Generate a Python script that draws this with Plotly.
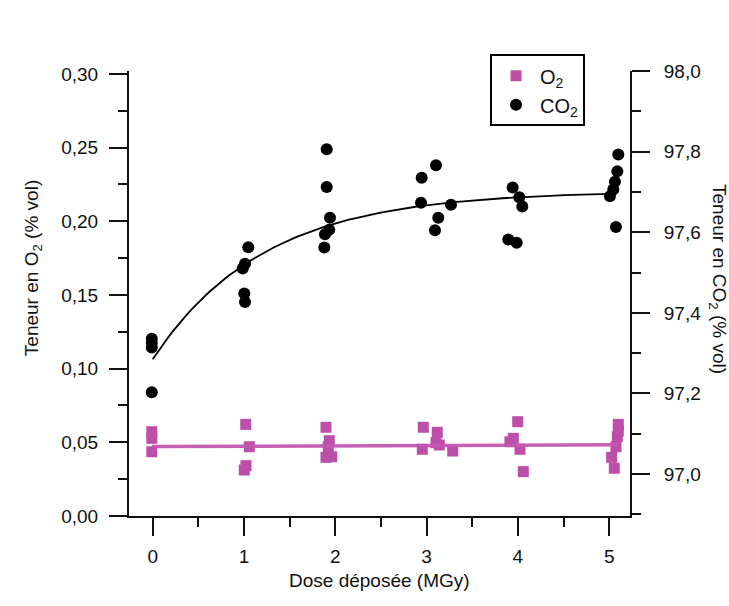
import numpy as np
import plotly.graph_objects as go

# ---- data ----
co2_dose = [-0.01, -0.01, -0.01, -0.01,
            1.047, 1.011, 0.986, 1.003, 1.011,
            1.906, 1.906, 1.942, 1.934, 1.887, 1.880,
            2.946, 3.103, 2.939, 3.267, 3.128, 3.092,
            3.943, 4.015, 4.048, 3.895, 3.987,
            5.100, 5.089, 5.063, 5.045, 5.008, 5.074]
co2_vals = [97.336, 97.325, 97.314, 97.203,
            97.563, 97.522, 97.510, 97.448, 97.427,
            97.806, 97.712, 97.636, 97.606, 97.595, 97.562,
            97.735, 97.766, 97.673, 97.668, 97.636, 97.605,
            97.711, 97.687, 97.664, 97.582, 97.574,
            97.793, 97.751, 97.725, 97.706, 97.689, 97.613]

o2_dose = [-0.01, -0.01, -0.01,
           1.019, 1.058, 1.022, 1.003,
           1.898, 1.934, 1.923, 1.898, 1.961,
           2.964, 3.117, 3.103, 3.139, 2.953, 3.286,
           3.998, 3.950, 3.913, 4.023, 4.059,
           5.100, 5.100, 5.089, 5.074, 5.027, 5.056]
o2_vals = [0.0572, 0.0527, 0.0436,
           0.0622, 0.0470, 0.0342, 0.0312,
           0.0602, 0.0511, 0.0470, 0.0398, 0.0402,
           0.0602, 0.0568, 0.0498, 0.0482, 0.0453, 0.0441,
           0.0640, 0.0527, 0.0504, 0.0453, 0.0301,
           0.0622, 0.0577, 0.0538, 0.0470, 0.0398, 0.0324]

# fitted models shown in the reference
co2_fit_A, co2_fit_B, co2_fit_tau = 97.702, 0.417, 1.213
co2_fit_range = [0.0, 5.01]
o2_fit_intercept, o2_fit_slope = 0.0471, 0.000235
o2_fit_range = [-0.01, 5.10]

x_ticks = [0, 1, 2, 3, 4, 5]

MAG = "rgb(188,79,168)"
FONT = "Liberation Sans, Arial, sans-serif"
INK = "#111111"

xf = np.linspace(co2_fit_range[0], co2_fit_range[1], 120)
yf = co2_fit_A - co2_fit_B * np.exp(-xf / co2_fit_tau)
xo = np.array(o2_fit_range)
yo = o2_fit_intercept + o2_fit_slope * xo

fig = go.Figure()
fig.add_trace(go.Scatter(x=o2_dose, y=o2_vals, mode="markers", name="O<sub>2</sub>",
                         marker=dict(symbol="square", size=11, color=MAG), yaxis="y"))
fig.add_trace(go.Scatter(x=co2_dose, y=co2_vals, mode="markers", name="CO<sub>2</sub>",
                         marker=dict(symbol="circle", size=12, color="black"), yaxis="y2"))
fig.add_trace(go.Scatter(x=xo, y=yo, mode="lines", showlegend=False,
                         line=dict(color="rgba(196,86,176,0.95)", width=3.5), yaxis="y"))
fig.add_trace(go.Scatter(x=xf, y=yf, mode="lines", showlegend=False,
                         line=dict(color="black", width=1.8), yaxis="y2"))

axis_common = dict(showline=True, linecolor=INK, linewidth=2, ticks="outside",
                   ticklen=18, tickwidth=2, tickcolor=INK, showgrid=False, zeroline=False,
                   automargin=False,
                   tickfont=dict(family=FONT, size=19, color=INK))

fig.update_layout(
    width=729, height=606, autosize=False,
    margin=dict(l=129, r=99, t=71, b=90),
    paper_bgcolor="white", plot_bgcolor="white",
    separators=", ",
    font=dict(family=FONT, color=INK),
    xaxis=dict(range=[-0.2596, 5.228], tickvals=x_ticks, ticktext=[str(t) for t in x_ticks],
               ticklabelstandoff=4,
               minor=dict(dtick=0.5, tick0=0, ticks="outside", ticklen=9, tickwidth=2, tickcolor=INK),
               **axis_common),
    yaxis=dict(range=[0, 0.3020], dtick=0.05, tickformat=".2f", ticklabelstandoff=7,
               minor=dict(dtick=0.025, tick0=0, ticks="outside", ticklen=9, tickwidth=2, tickcolor=INK),
               **axis_common),
    yaxis2=dict(range=[96.896, 98.0], dtick=0.2, tick0=97.0, tickformat=".1f",
                overlaying="y", side="right", ticklabelstandoff=10,
                minor=dict(dtick=0.1, tick0=97.0, ticks="outside", ticklen=9, tickwidth=2, tickcolor=INK),
                **axis_common),
    legend=dict(x=0.7206, y=1.0375, xanchor="left", yanchor="top",
                bordercolor="black", borderwidth=2, bgcolor="white", itemwidth=38,
                font=dict(family=FONT, size=20, color=INK)),
    annotations=[
        dict(text="Dose déposée (MGy)", xref="paper", yref="paper", x=0.5, y=-0.1454,
             xanchor="center", yanchor="middle",
             showarrow=False, font=dict(family=FONT, size=19, color=INK)),
        dict(text="Teneur en O<sub>2</sub> (% vol)", xref="paper", yref="paper",
             x=-0.1916, y=0.557, textangle=-90, showarrow=False,
             xanchor="center", yanchor="middle",
             font=dict(family=FONT, size=19, color=INK)),
        dict(text="Teneur en CO<sub>2</sub> (% vol)", xref="paper", yref="paper",
             x=1.1756, y=0.5326, textangle=90, showarrow=False,
             xanchor="center", yanchor="middle",
             font=dict(family=FONT, size=19, color=INK)),
    ],
)

fig.write_html("out.html", config={"displayModeBar": False},
               post_script="document.body.style.margin='0';document.body.style.overflow='hidden';")
